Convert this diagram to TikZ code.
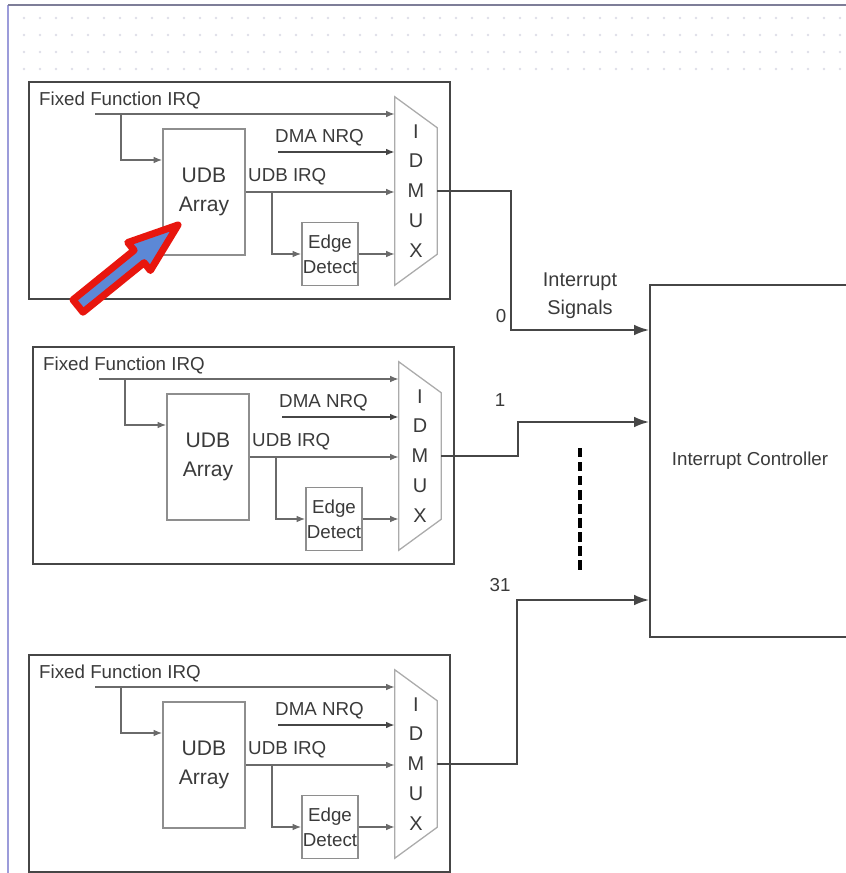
\documentclass[tikz,border=0pt]{standalone}
\usepackage{fontspec}
\setmainfont{Liberation Sans}
\usetikzlibrary{arrows.meta,positioning,calc}
\definecolor{frameline}{HTML}{464646}
\definecolor{wire}{HTML}{6A6A6A}
\definecolor{boxline}{HTML}{8E8E8E}
\definecolor{muxline}{HTML}{ABABAB}
\definecolor{ink}{HTML}{3A3A3A}
\definecolor{pageedge}{HTML}{9C9CDA}
\definecolor{pagetop}{HTML}{7E7E98}
\definecolor{griddot}{HTML}{DEDEE8}
\definecolor{flagred}{HTML}{E8160E}
\definecolor{flagblue}{HTML}{5C88D6}
\tikzset{
  panelbox/.style={draw=frameline, line width=1.6pt},
  udbbox/.style={draw=boxline, line width=1.2pt, align=center, inner sep=0pt,
                 minimum width=2.46cm, minimum height=3.78cm,
                 font=\fontsize{18}{24.5}\selectfont, text=ink},
  edgebox/.style={draw=boxline, line width=1.2pt, align=center, inner sep=0pt,
                  minimum width=1.68cm, minimum height=1.89cm,
                  font=\fontsize{16}{21}\selectfont, text=ink},
  muxtxt/.style={align=center, inner sep=0pt, minimum width=1.26cm, minimum height=5.64cm,
                 font=\fontsize{17}{25.5}\selectfont, text=ink},
  muxshape/.style={draw=muxline, line width=1.1pt},
  lbl/.style={inner sep=0pt, font=\fontsize{16}{21}\selectfont, text=ink},
  wire/.style={draw=wire, line width=1.2pt, -{Latex[length=2.6mm,width=2mm]}},
  dmawire/.style={wire, draw=frameline, line width=1.9pt},
  bus/.style={draw=frameline, line width=1.6pt, -{Latex[length=4.5mm,width=3.2mm]}},
  ctrlbox/.style={draw=frameline, line width=1.6pt, minimum width=6cm, minimum height=10.56cm,
                  inner sep=0pt, font=\fontsize{16}{21}\selectfont, text=ink},
  vdots/.style={draw=black, line width=4pt, dash pattern=on 8pt off 4pt}
}
\begin{document}
\begin{tikzpicture}[x=0.03cm, y=-0.03cm]
  \useasboundingbox (0,0) rectangle (846,873);
  % page edge and dotted grid
  \foreach \gy in {18,35,52,69}
    \foreach \gx in {24,40,...,840}
      \fill[griddot] (\gx,\gy) circle (1.2pt);
  \draw[pageedge, line width=2.5pt] (8,873) -- (8,5);
  \draw[pagetop, line width=2.5pt] (8,5) -- (846,5);

  % three interrupt source panels
  \foreach \p/\ox/\oy in {1/29/82, 2/33/347, 3/29/655}{
    \begin{scope}[shift={(\ox,\oy)}]
      \draw[panelbox] (0,0) rectangle (421,217);
      \node[lbl, anchor=west] (ffi\p) at (10,18) {Fixed Function IRQ};
      \node[udbbox] (udb\p) at (175,110) {UDB\\Array};
      \node[edgebox] (edge\p) at (301,172) {Edge\\Detect};
      \node[muxtxt] (mux\p) at (387,109) {I\\D\\M\\U\\X};
      \draw[muxshape] (mux\p.north west) -- ($(mux\p.north east)+(0,31)$)
        -- ($(mux\p.south east)+(0,-31)$) -- (mux\p.south west) -- cycle;
      \node[lbl, anchor=west] (dma\p) at (246,56) {DMA NRQ};
      \node[lbl, anchor=west] (uirq\p) at (219,95) {UDB IRQ};
      \coordinate (ffin\p) at (66,32);
      \coordinate (dmain\p) at (249,70);
      \draw[wire] (ffin\p) -- (mux\p.west |- ffin\p);
      \draw[wire] (92,32) |- (udb\p.west |- 0,78);
      \draw[dmawire] (dmain\p) -- (mux\p.west |- dmain\p);
      \draw[wire] (udb\p.east) -- (mux\p.west |- udb\p.east);
      \draw[wire] (243,110) |- (edge\p.west);
      \draw[wire] (edge\p.east) -- (mux\p.west |- edge\p.east);
    \end{scope}
  }

  % controller and interrupt lines
  \node[ctrlbox] (ctrl) at (750,461) {Interrupt Controller};
  \draw[bus] (mux1.east) -| (511,330) -- (ctrl.west |- 0,330);
  \draw[bus] (mux2.east) -| (518,422) -- (ctrl.west |- 0,422);
  \draw[bus] (mux3.east) -| (517,600) -- (ctrl.west |- 0,600);
  \node[lbl] (sig0) at (501,316) {0};
  \node[lbl] (sig1) at (500,400) {1};
  \node[lbl] (sig31) at (500,585) {31};
  \node[lbl, align=center, font=\fontsize{17}{24}\selectfont] (isig) at (580,296) {Interrupt\\Signals};
  \draw[vdots] (580,448) -- (580,573);

  % pointer arrow
  \draw[flagred, fill=flagblue, line width=6pt, line join=round]
    (83,312.2) -- (144.1,262.7) -- (150.4,270.5) -- (178,225)
    -- (127.8,242.5) -- (134.1,250.3) -- (73,299.8) -- cycle;
\end{tikzpicture}
\end{document}
